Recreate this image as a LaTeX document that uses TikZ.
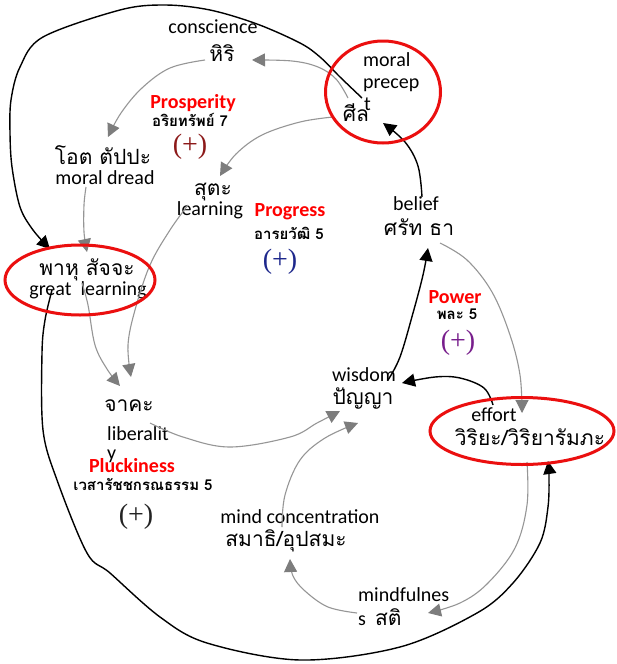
\documentclass[tikz,border=0pt]{standalone}
\usepackage{fontspec}
\setmainfont{Carlito}
\newfontfamily\thaifont[Script=Thai]{Loma}
\newfontfamily\plusfont{Liberation Serif}
\usetikzlibrary{arrows.meta,shapes.geometric}
\definecolor{lblred}{RGB}{255,0,0}
\definecolor{ringred}{RGB}{235,15,15}
\definecolor{linegrey}{RGB}{150,150,150}
\definecolor{arrowgrey}{RGB}{125,125,125}
\definecolor{plusred}{RGB}{140,25,25}
\definecolor{plusblue}{RGB}{30,40,140}
\definecolor{pluspurple}{RGB}{120,30,140}
\definecolor{plusblack}{RGB}{35,35,35}
\tikzset{
  en/.style={font=\fontsize{20}{24}\selectfont, inner sep=0pt},
  th/.style={font=\thaifont\fontsize{21}{25}\selectfont, inner sep=0pt},
  thb/.style={font=\thaifont\bfseries\fontsize{15}{18}\selectfont, inner sep=0pt},
  looplbl/.style={font=\bfseries\fontsize{20}{24}\selectfont, text=lblred, inner sep=0pt},
  plus/.style={font=\plusfont\fontsize{28}{30}\selectfont, inner sep=0pt},
  ring/.style={ellipse, draw=ringred, line width=3pt, inner sep=0pt},
  glink/.style={draw=linegrey, line width=1.1pt, -{Triangle[length=13pt,width=13pt,color=arrowgrey]}},
  blink/.style={draw=black, line width=1.4pt, -{Triangle[length=13pt,width=13pt,color=black]}},
}
\begin{document}
\begin{tikzpicture}[x=1pt,y=-1pt]
\useasboundingbox[fill=white] (0,0) rectangle (616,664);

% ---------- text nodes ----------
\node[en] (conscience) at (213,27) {conscience};
\node[th] (hiri) at (222,53) {หิริ};
\node[en, anchor=west] (precepA) at (363,60) {moral};
\node[en, anchor=west] (precepB) at (363,85) {precep};
\node[en, anchor=west] (precepC) at (364,104) {t};
\node[th] (sila) at (356,113) {ศีล};
\node[looplbl] (prosperity) at (193,103) {Prosperity};
\node[thb] (ariyasap) at (190,120) {อริยทรัพย์ 7};
\node[plus, text=plusred] (plusA) at (190,147) {(+)};
\node[th] (ottappa) at (103,155) {โอต ตัปปะ};
\node[en] (moraldread) at (105,178) {moral dread};
\node[th] (suta) at (213,192) {สุตะ};
\node[en] (learning) at (210,210) {learning};
\node[looplbl] (progress) at (290,212) {Progress};
\node[thb] (araya) at (289,233) {อารยวัฒิ 5};
\node[plus, text=plusblue] (plusB) at (280,262) {(+)};
\node[en] (belief) at (416,204) {belief};
\node[th] (saddha) at (419,227) {ศรัท ธา};
\node[th] (bahusacca) at (87,270) {พาหุ สัจจะ};
\node[en] (greatlearning) at (88,290) {great\ \ learning};
\node[looplbl] (power) at (455,297) {Power};
\node[thb] (pala) at (457,314) {พละ 5};
\node[plus, text=pluspurple] (plusC) at (458,343) {(+)};
\node[en] (wisdom) at (364,375) {wisdom};
\node[th] (panna) at (363,398) {ปัญญา};
\node[en] (effort) at (494,415) {effort};
\node[th] (viriya) at (530,437) {วิริยะ/วิริยารัมภะ};
\node[th] (caga) at (129,406) {จาคะ};
\node[en, anchor=west] (liberalA) at (107,434) {liberalit};
\node[en, anchor=west] (liberalB) at (107,456) {y};
\node[looplbl] (pluckiness) at (132,466) {Pluckiness};
\node[thb] (vesarajja) at (143,484) {เวสารัชชกรณธรรม 5};
\node[plus, text=plusblack] (plusD) at (136,517) {(+)};
\node[en] (mindconc) at (300,517) {mind concentration};
\node[th] (samadhi) at (286,541) {สมาธิ/อุปสมะ};
\node[en, anchor=west] (mindfulA) at (358,595) {mindfulnes};
\node[anchor=west, inner sep=0pt] (sati) at (358,617) {\fontsize{20}{24}\selectfont s\ \ {\thaifont\fontsize{21}{25}\selectfont สติ}};

% ---------- attachment points ----------
\coordinate (silaToHiri) at (348,98);
\coordinate (hiriIn) at (252,60);
\coordinate (hiriOut) at (205,60);
\coordinate (ottappaIn) at (108,137);
\coordinate (silaToSuta) at (333,117);
\coordinate (sutaIn) at (220,176);
\coordinate (ottappaOut) at (86,187);
\coordinate (bahuIn) at (87,252);
\coordinate (sutaOut) at (188,205);
\coordinate (cagaInA) at (131,377);
\coordinate (bahuOut) at (82,283);
\coordinate (cagaInB) at (120,386);
\coordinate (cagaOut) at (150,423);
\coordinate (pannaInA) at (340,411);
\coordinate (samadhiOut) at (282,527);
\coordinate (pannaInB) at (358,423);
\coordinate (pannaOut) at (388,380);
\coordinate (saddhaIn) at (428,248);
\coordinate (saddhaOutA) at (422,197);
\coordinate (silaIn) at (383,123);
\coordinate (saddhaOutB) at (440,243);
\coordinate (viriyaIn) at (522,413);
\coordinate (viriyaOutA) at (493,405);
\coordinate (pannaInC) at (402,383);
\coordinate (viriyaOutB) at (527,462);
\coordinate (satiIn) at (428,613);
\coordinate (satiOut) at (357,613);
\coordinate (samadhiIn) at (290,559);
\coordinate (silaOutBig) at (362,98);
\coordinate (bahuInBig) at (50,249);
\coordinate (bahuOutBig) at (52,290);
\coordinate (viriyaInBig) at (548,461);

% ---------- grey links ----------
\draw[glink] plot[smooth, tension=0.6] coordinates {(silaToHiri) (336,79) (318,67) (292,61) (hiriIn)};
\draw[glink] plot[smooth, tension=0.6] coordinates {(hiriOut) (170,68) (142,88) (121,113) (ottappaIn)};
\draw[glink] plot[smooth, tension=0.6] coordinates {(silaToSuta) (300,122) (262,135) (236,154) (sutaIn)};
\draw[glink] plot[smooth, tension=0.6] coordinates {(ottappaOut) (84,205) (84,232) (bahuIn)};
\draw[glink] plot[smooth, tension=0.6] coordinates {(sutaOut) (170,230) (150,265) (135,310) (128,345) (cagaInA)};
\draw[glink] plot[smooth, tension=0.6] coordinates {(bahuOut) (88,305) (95,345) (107,369) (cagaInB)};
\draw[glink] plot[smooth, tension=0.6] coordinates {(cagaOut) (183,437) (230,447) (290,437) (317,423) (pannaInA)};
\draw[glink] plot[smooth, tension=0.6] coordinates {(samadhiOut) (285,495) (300,460) (325,438) (pannaInB)};
\draw[glink] plot[smooth, tension=0.6] coordinates {(saddhaOutB) (467,260) (492,292) (510,335) (520,375) (viriyaIn)};
\draw[glink] plot[smooth, tension=0.6] coordinates {(viriyaOutB) (527,505) (515,548) (487,584) (460,603) (satiIn)};
\draw[glink] plot[smooth, tension=0.6] coordinates {(satiOut) (328,607) (305,591) (293,576) (samadhiIn)};

% ---------- black links ----------
\draw[blink] plot[smooth, tension=0.6] coordinates {(pannaOut) (400,357) (413,313) (423,275) (saddhaIn)};
\draw[blink] plot[smooth, tension=0.6] coordinates {(saddhaOutA) (418,166) (405,142) (silaIn)};
\draw[blink] plot[smooth, tension=0.6] coordinates {(viriyaOutA) (484,388) (460,378) (435,377) (pannaInC)};
\draw[blink] plot[smooth, tension=0.55] coordinates {(silaOutBig) (340,77) (320,57) (300,43) (257,24) (210,10) (165,5) (120,10) (43,37) (20,67) (11,100) (10,133) (12,167) (20,207) (33,230) (bahuInBig)};
\draw[blink] plot[smooth, tension=0.55] coordinates {(bahuOutBig) (45,320) (42,353) (43,430) (57,480) (87,553) (110,573) (160,617) (207,643) (300,660) (400,647) (477,613) (513,583) (540,543) (548,507) (549,475) (viriyaInBig)};

% ---------- red rings ----------
\node[ring, minimum width=115pt, minimum height=102pt] (ringSila) at (383,92) {};
\node[ring, minimum width=150pt, minimum height=70pt] (ringBahu) at (80,280) {};
\node[ring, minimum width=184pt, minimum height=67pt] (ringViriya) at (522,431) {};
\end{tikzpicture}
\end{document}
